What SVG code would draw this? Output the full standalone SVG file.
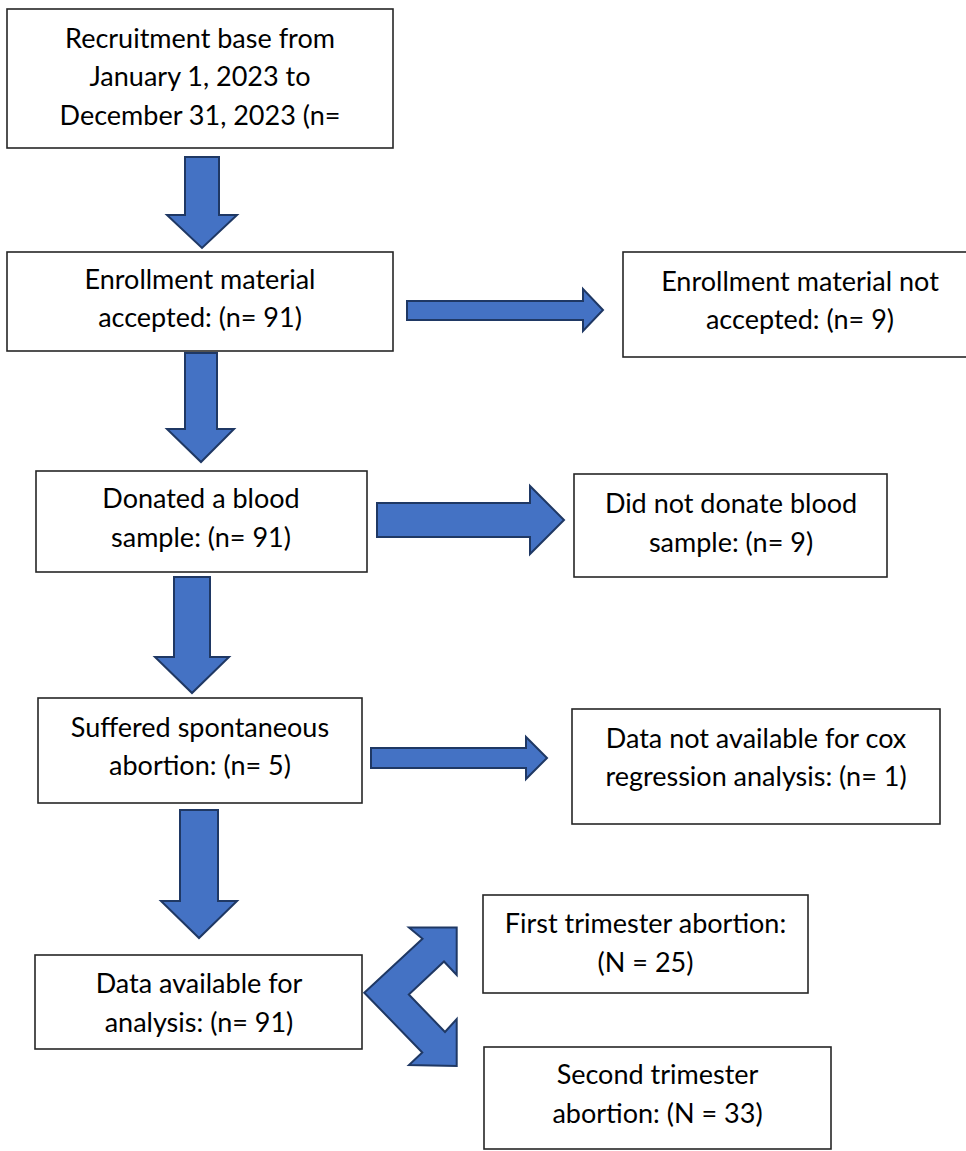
<svg xmlns="http://www.w3.org/2000/svg" width="966" height="1151" viewBox="0 0 966 1151">
<style>
.box{fill:#fff;stroke:#262626;stroke-width:1.6}
.arr{fill:#4472C4;stroke:#1F3864;stroke-width:2;stroke-linejoin:miter}
.t{font-family:Lato,"Open Sans","Liberation Sans",sans-serif;font-size:27px;fill:#000;text-anchor:middle}
</style>
<rect width="966" height="1151" fill="#fff"/>
<g id="connectors">
<path class="arr" d="M185,157 H219 V215 H237 L202,248 L167,215 H185 Z"/>
<path class="arr" d="M185,353 H217 V429 H234 L201,462 L167,429 H185 Z"/>
<path class="arr" d="M174,577 H210 V657 H229 L192,693 L155,657 H174 Z"/>
<path class="arr" d="M180,810 H218 V901 H237 L199,938 L161,901 H180 Z"/>
<path class="arr" d="M407,301 H583 V289 L603,310 L583,331 V320 H407 Z"/>
<path class="arr" d="M377,503 H530 V486 L564,520 L530,554 V537 H377 Z"/>
<path class="arr" d="M371,748 H526 V737 L547,758 L526,779 V768 H371 Z"/>
<path class="arr" d="M364.3,992.7 L422.5,938.7 L409,927.5 H456.7 V975 L444,961.5 L408.8,994.5 L445,1032 L456.7,1019 V1066 L409,1065 L422.3,1052.5 Z"/>
</g>
<g id="n1"><rect class="box" x="7" y="9" width="386" height="139"/>
<text class="t" x="200" y="48">Recruitment base from</text>
<text class="t" x="200" y="86">January 1, 2023 to</text>
<text class="t" x="200" y="125">December 31, 2023 (n=</text></g>
<g id="n2"><rect class="box" x="7" y="252" width="386" height="99"/>
<text class="t" x="200" y="289">Enrollment material</text>
<text class="t" x="200" y="327">accepted: (n= 91)</text></g>
<g id="n3"><rect class="box" x="623" y="252" width="355" height="105"/>
<text class="t" x="800" y="291">Enrollment material not</text>
<text class="t" x="800" y="329">accepted: (n= 9)</text></g>
<g id="n4"><rect class="box" x="36" y="471" width="331" height="101"/>
<text class="t" x="201" y="508">Donated a blood</text>
<text class="t" x="201" y="547">sample: (n= 91)</text></g>
<g id="n5"><rect class="box" x="574" y="474" width="313" height="103"/>
<text class="t" x="731" y="513">Did not donate blood</text>
<text class="t" x="731" y="552">sample: (n= 9)</text></g>
<g id="n6"><rect class="box" x="38" y="698" width="324" height="105"/>
<text class="t" x="200" y="737">Suffered spontaneous</text>
<text class="t" x="200" y="775">abortion: (n= 5)</text></g>
<g id="n7"><rect class="box" x="572" y="709" width="368" height="115"/>
<text class="t" x="756" y="748">Data not available for cox</text>
<text class="t" x="756" y="786">regression analysis: (n= 1)</text></g>
<g id="n8"><rect class="box" x="35" y="955" width="327" height="94"/>
<text class="t" x="199" y="993">Data available for</text>
<text class="t" x="199" y="1032">analysis: (n= 91)</text></g>
<g id="n9"><rect class="box" x="483" y="895" width="325" height="98"/>
<text class="t" x="645.5" y="933">First trimester abortion:</text>
<text class="t" x="645.5" y="972">(N = 25)</text></g>
<g id="n10"><rect class="box" x="484" y="1047" width="347" height="102"/>
<text class="t" x="657.5" y="1084">Second trimester</text>
<text class="t" x="657.5" y="1123">abortion: (N = 33)</text></g>
</svg>
